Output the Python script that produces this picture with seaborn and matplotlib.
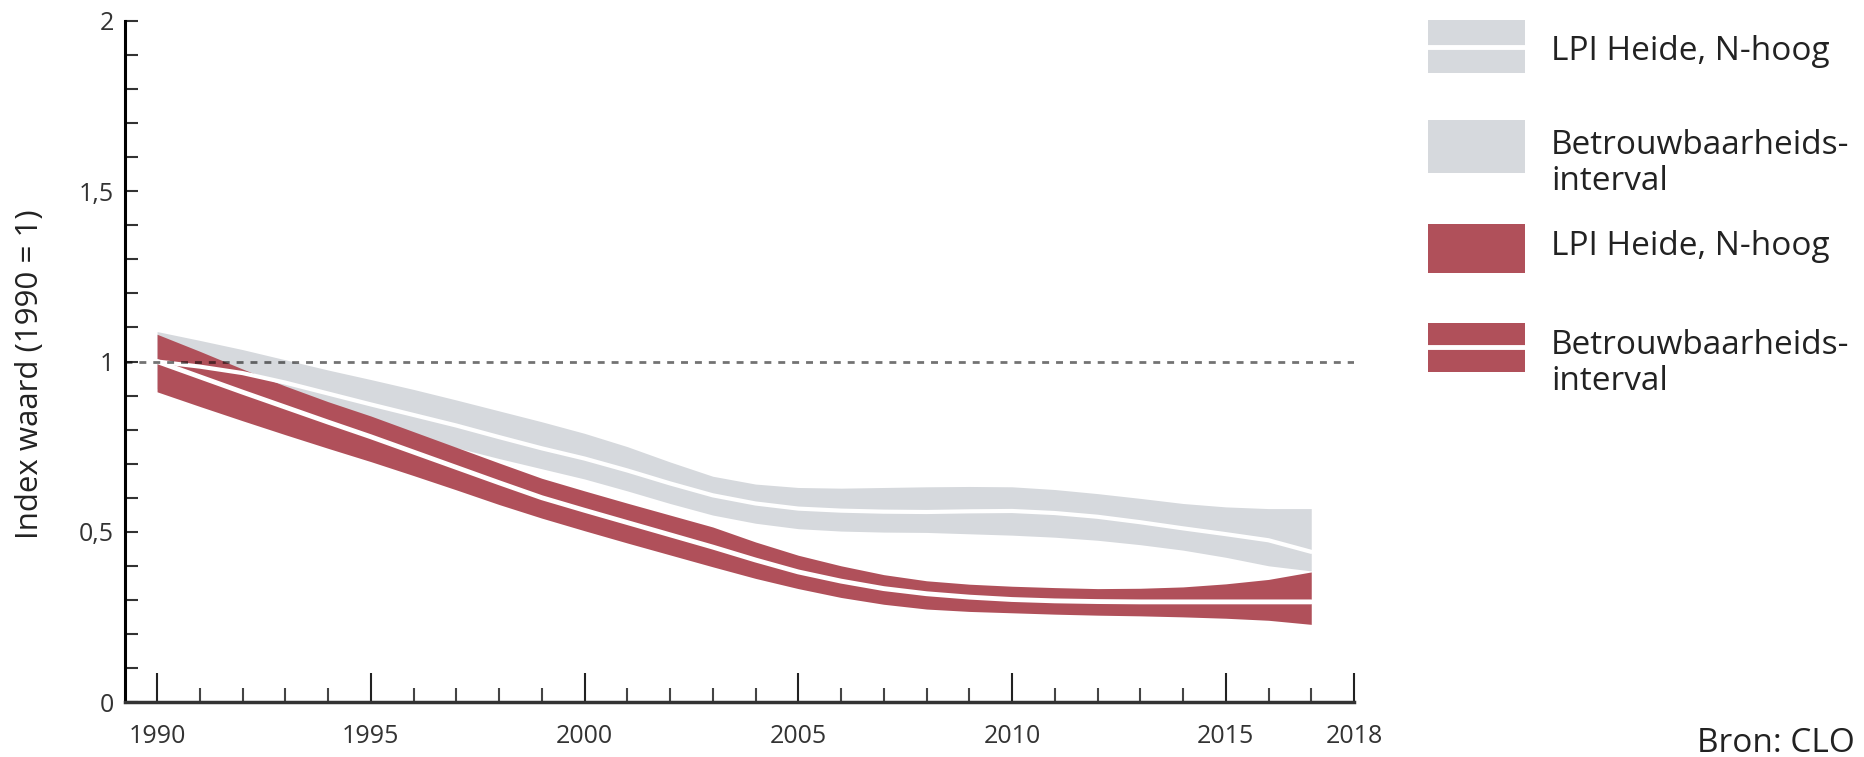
import matplotlib
matplotlib.use("Agg")
import matplotlib.pyplot as plt
from matplotlib.patches import Rectangle
from matplotlib.lines import Line2D
from matplotlib.ticker import FixedLocator
import seaborn as sns

# ── data ─────────────────────────────────────────────────────────────────────
years = list(range(1990, 2018))

gray_mid = [1.000, 0.985, 0.966, 0.938, 0.906, 0.874, 0.843, 0.812, 0.778, 0.745,
            0.715, 0.680, 0.642, 0.607, 0.583, 0.568, 0.562, 0.559, 0.558, 0.560,
            0.561, 0.555, 0.544, 0.528, 0.510, 0.493, 0.475, 0.441]
gray_hi = [1.088, 1.062, 1.035, 1.005, 0.975, 0.947, 0.918, 0.887, 0.855, 0.823,
           0.789, 0.750, 0.705, 0.663, 0.640, 0.630, 0.628, 0.630, 0.632, 0.633,
           0.632, 0.624, 0.612, 0.598, 0.583, 0.573, 0.568, 0.568]
gray_lo = [0.920, 0.898, 0.875, 0.852, 0.828, 0.804, 0.778, 0.747, 0.715, 0.685,
           0.655, 0.620, 0.583, 0.549, 0.525, 0.509, 0.502, 0.499, 0.498, 0.494,
           0.490, 0.484, 0.475, 0.462, 0.446, 0.425, 0.400, 0.385]

red_mid = [1.000, 0.955, 0.910, 0.866, 0.822, 0.779, 0.734, 0.689, 0.644, 0.600,
           0.563, 0.527, 0.491, 0.455, 0.417, 0.382, 0.355, 0.333, 0.318, 0.308,
           0.301, 0.297, 0.295, 0.294, 0.294, 0.294, 0.294, 0.294]
red_hi = [1.080, 1.030, 0.978, 0.928, 0.882, 0.840, 0.794, 0.748, 0.702, 0.657,
          0.620, 0.584, 0.549, 0.514, 0.470, 0.431, 0.400, 0.374, 0.356, 0.346,
          0.340, 0.336, 0.333, 0.334, 0.338, 0.347, 0.360, 0.382]
red_lo = [0.911, 0.868, 0.826, 0.785, 0.745, 0.706, 0.665, 0.623, 0.580, 0.540,
          0.503, 0.467, 0.432, 0.397, 0.363, 0.333, 0.307, 0.287, 0.273, 0.266,
          0.262, 0.258, 0.255, 0.253, 0.250, 0.246, 0.240, 0.228]

x_major = [1990, 1995, 2000, 2005, 2010, 2015, 2018]
y_major = [0, 0.5, 1, 1.5, 2]
y_labels = ["0", "0,5", "1", "1,5", "2"]

legend_labels = ["LPI Heide, N-hoog", "Betrouwbaarheids-\ninterval",
                 "LPI Heide, N-hoog", "Betrouwbaarheids-\ninterval"]

GRAY = "#d6d9dd"
RED = "#b0505a"
TXT = "#222222"
W, H = 1865, 757

sns.set_theme(style="white")
plt.rcParams["font.family"] = ["Open Sans", "DejaVu Sans"]

fig = plt.figure(figsize=(W / 100, H / 100), dpi=100)
ax = fig.add_axes([125 / W, 55 / H, 1229 / W, 681 / H])

# bands, gray first, red on top
ax.fill_between(years, gray_lo, gray_hi, color=GRAY, lw=0)
sns.lineplot(x=years, y=gray_mid, color="white", lw=3, ax=ax)
ax.fill_between(years, red_lo, red_hi, color=RED, lw=0)
sns.lineplot(x=years, y=red_mid, color="white", lw=3.5, ax=ax)

ax.axhline(1, color="black", alpha=0.55, lw=2, ls=(0, (2.5, 2.5)), zorder=5)

ax.set_xlim(1989.25, 2018)
ax.set_ylim(0, 2)

for s in ["top", "right"]:
    ax.spines[s].set_visible(False)
ax.spines["left"].set_color("black")
ax.spines["left"].set_linewidth(2.2)
ax.spines["bottom"].set_color("#333333")
ax.spines["bottom"].set_linewidth(2.5)

ax.xaxis.set_major_locator(FixedLocator(x_major))
ax.xaxis.set_minor_locator(FixedLocator([y for y in range(1991, 2018) if y not in x_major]))
ax.set_xticklabels([str(v) for v in x_major])
ax.yaxis.set_major_locator(FixedLocator(y_major))
ax.yaxis.set_minor_locator(FixedLocator([round(v * 0.1, 1) for v in range(1, 20) if v % 5]))
ax.set_yticklabels(y_labels)

ax.tick_params(axis="x", which="major", direction="in", length=21, width=1.5,
               color="#222222", pad=16, labelsize=18, labelcolor="#333333")
ax.tick_params(axis="x", which="minor", direction="in", length=10, width=1.5,
               color="#444444")
ax.tick_params(axis="y", which="both", direction="in", length=9.5, width=1.5,
               color="#333333", pad=8, labelsize=18, labelcolor="#333333")
ax.tick_params(axis="both", which="both", bottom=True, left=True)

ax.set_xlabel("")
ax.set_ylabel("Index waard (1990 = 1)", fontsize=22.5, color=TXT, va="center")
ax.yaxis.set_label_coords(-0.0773, 0.481)

# legend, placed by hand (pixel boxes from the reference)
def fx(px):
    return px / W

def fy(py):
    return 1 - py / H

leg_boxes = [(20, 73, GRAY, 46.5), (120, 173, GRAY, None),
             (224, 273, RED, None), (323, 372, RED, 346.5)]
# baseline of the last line of each label
text_baselines = [60.5, 190, 254.5, 390]

for (top, bot, col, line_y), lab, base in zip(leg_boxes, legend_labels, text_baselines):
    fig.add_artist(Rectangle((fx(1428), fy(bot)), fx(1525) - fx(1428), fy(top) - fy(bot),
                             transform=fig.transFigure, facecolor=col, lw=0))
    if line_y is not None:
        fig.add_artist(Line2D([fx(1422), fx(1530)], [fy(line_y), fy(line_y)],
                              transform=fig.transFigure, color="white", lw=3.5))
    fig.text(fx(1551), fy(base), lab, ha="left", va="baseline", fontsize=24,
             color=TXT, linespacing=1.1)

fig.text(fx(1855), fy(743), "Bron: CLO", ha="right", va="center", fontsize=24, color=TXT)

fig.savefig("out.png", dpi=100, facecolor="white")
